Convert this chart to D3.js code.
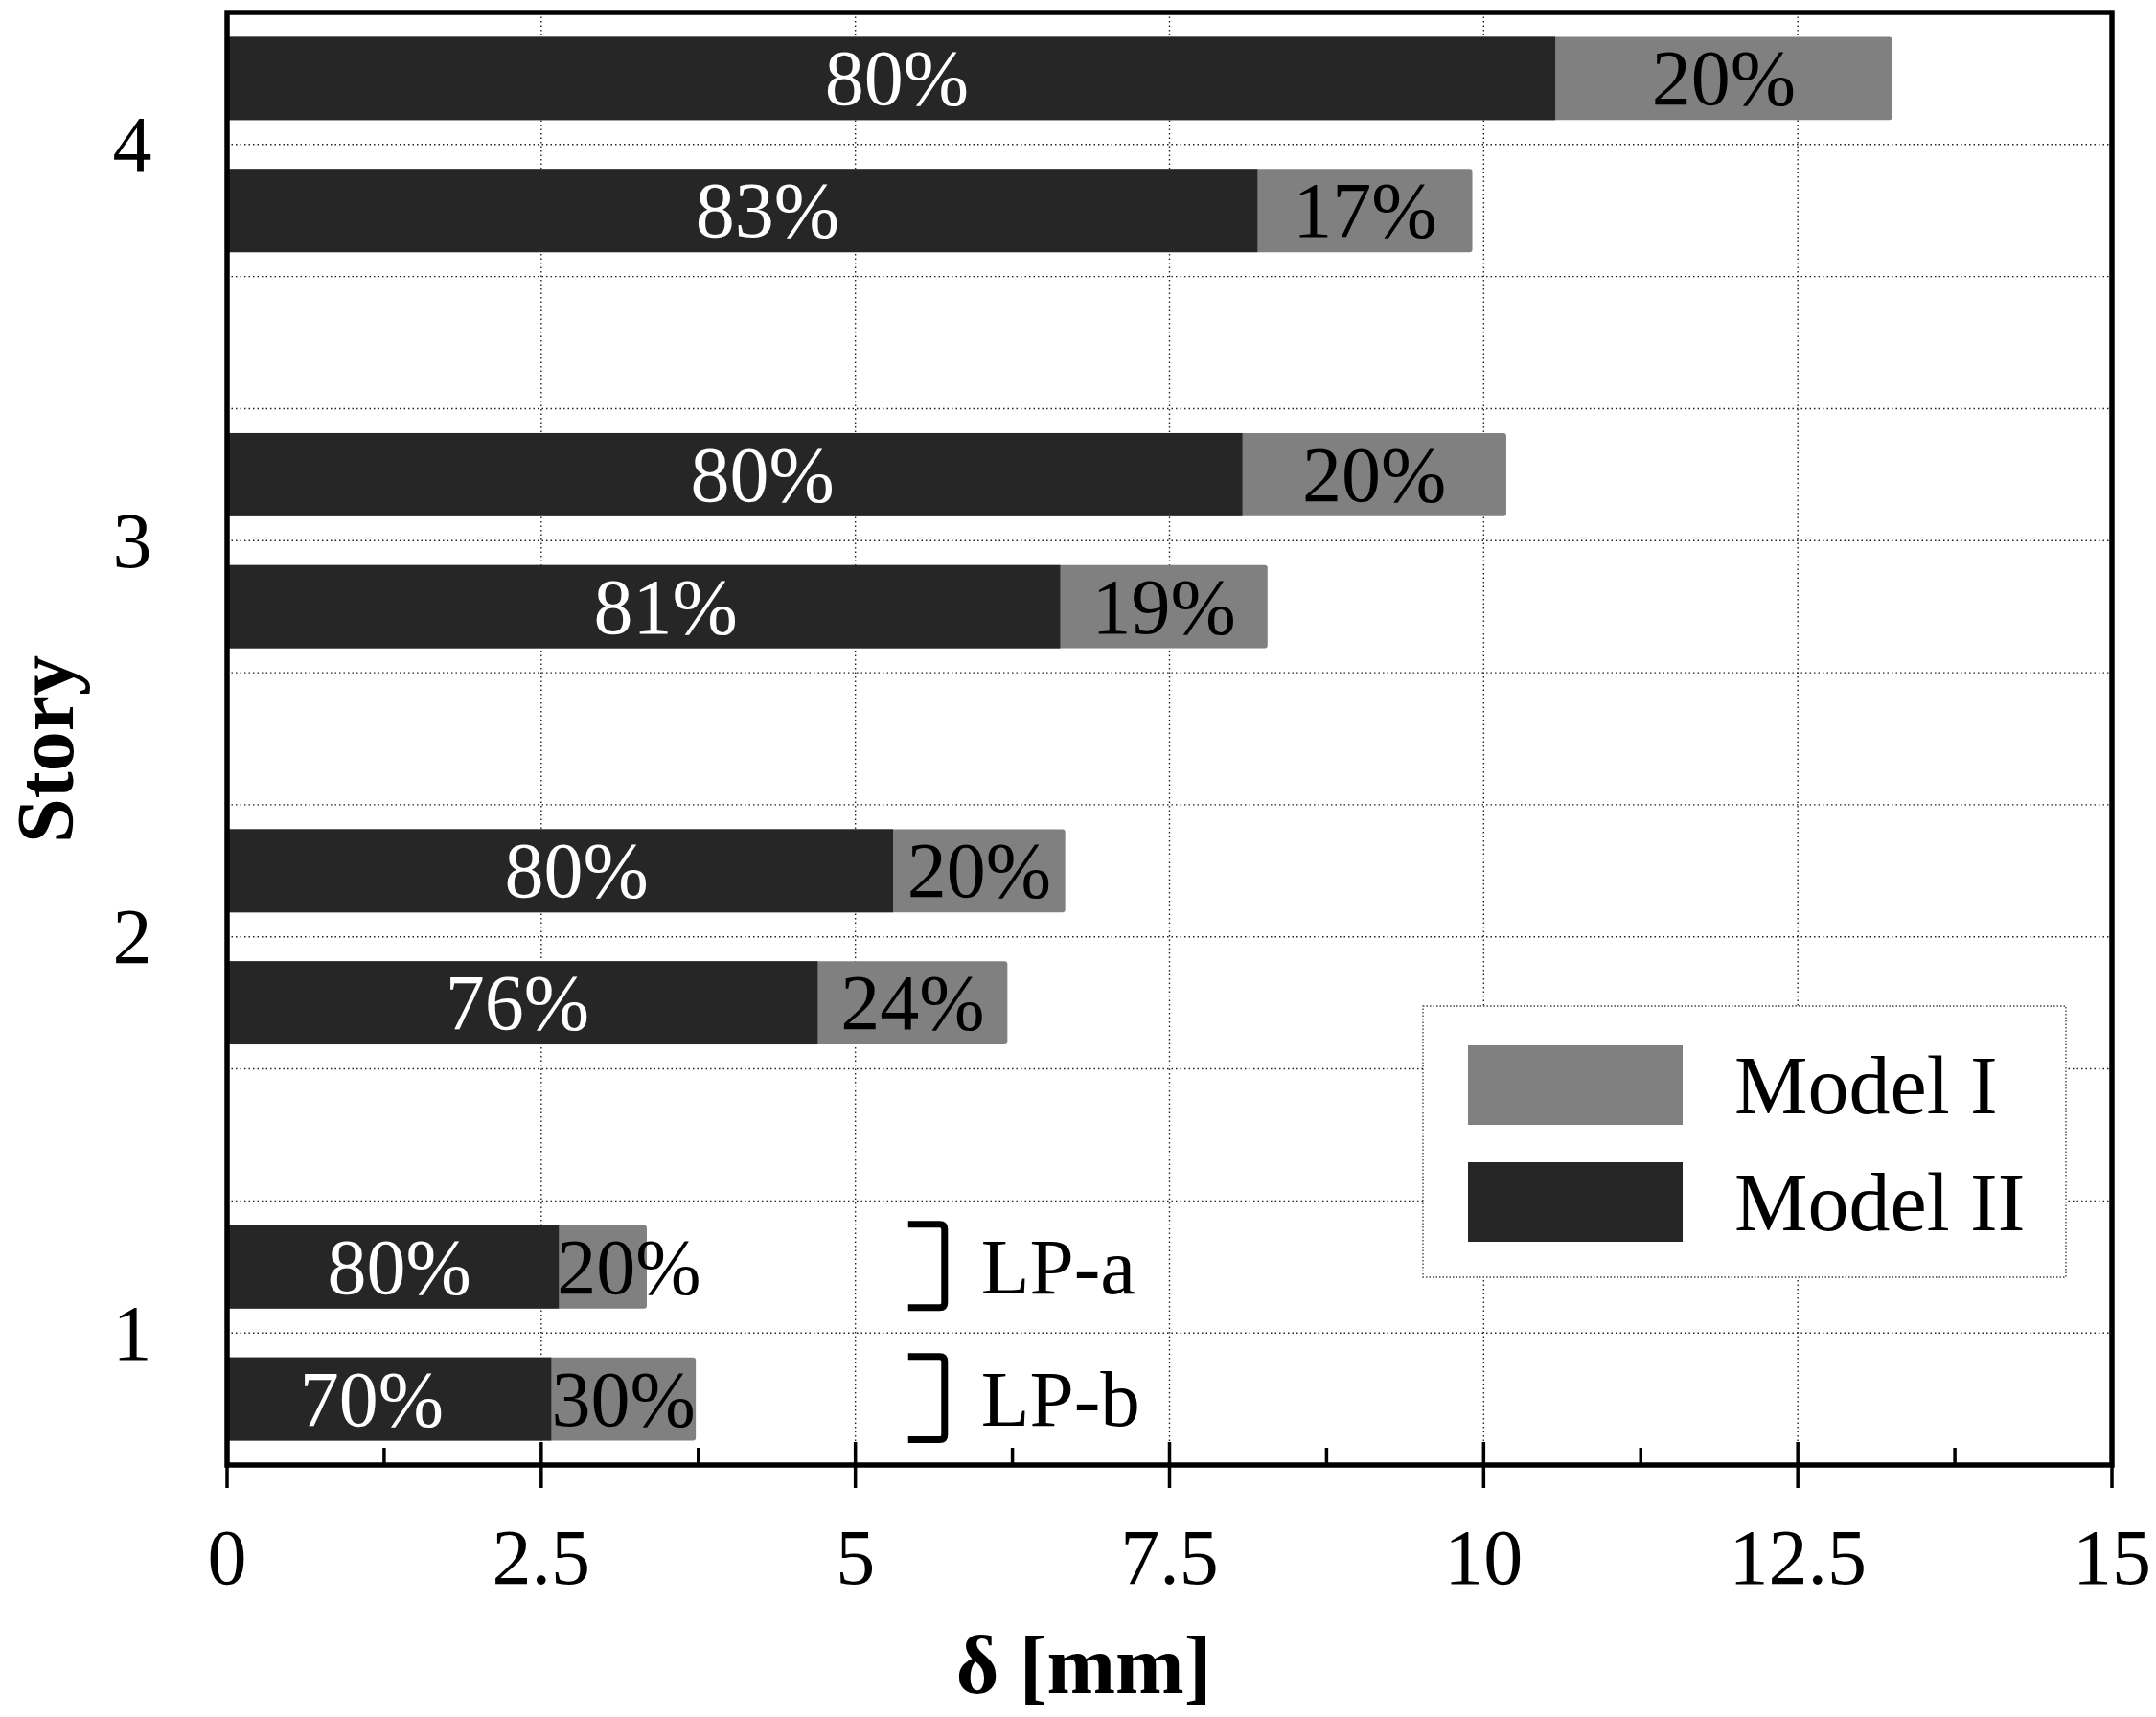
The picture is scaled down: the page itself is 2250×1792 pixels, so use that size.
<!DOCTYPE html>
<html>
<head>
<meta charset="utf-8">
<script src="https://cdn.jsdelivr.net/npm/d3@7"></script>
<style>
  html, body { margin: 0; padding: 0; background: #fff; }
  svg { display: block; }
  text { font-family: 'Liberation Serif', 'Times New Roman', serif; }
</style>
</head>
<body>
<svg id="chart" width="2250" height="1792"></svg>
<script>
// ---------- data (δ in mm) ----------
const stories = ["4", "3", "2", "1"];
const loadCases = ["LP-a", "LP-b"];
// total bar length (Model I) per story, order 4,3,2,1
const modelI_LPa = [13.25, 10.18, 6.67, 3.34];
const modelI_LPb = [9.91, 8.28, 6.21, 3.73];
// Model II portion (dark) per story
const modelII_LPa = [10.57, 8.08, 5.30, 2.64];
const modelII_LPb = [8.20, 6.63, 4.70, 2.58];
// percentage labels
const pctII_LPa = ["80%", "80%", "80%", "80%"];
const pctI_LPa  = ["20%", "20%", "20%", "20%"];
const pctII_LPb = ["83%", "81%", "76%", "70%"];
const pctI_LPb  = ["17%", "19%", "24%", "30%"];
// where the Model II % label sits along δ (mm)
const labelAtII_LPa = [5.33, 4.26, 2.78, 1.37];
const labelAtII_LPb = [4.30, 3.49, 2.31, 1.15];
const xTicks = [0, 2.5, 5, 7.5, 10, 12.5, 15];
const xTickLabels = ["0", "2.5", "5", "7.5", "10", "12.5", "15"];
const xMinorTicks = [1.25, 3.75, 6.25, 8.75, 11.25, 13.75];
const seriesNames = ["Model I", "Model II"];

// ---------- build records ----------
const bars = [];
stories.forEach((s, i) => {
  bars.push({story: s, lp: "LP-a", total: modelI_LPa[i], ii: modelII_LPa[i],
             pII: pctII_LPa[i], pI: pctI_LPa[i], lab: labelAtII_LPa[i]});
  bars.push({story: s, lp: "LP-b", total: modelI_LPb[i], ii: modelII_LPb[i],
             pII: pctII_LPb[i], pI: pctI_LPb[i], lab: labelAtII_LPb[i]});
});
const rows = stories.flatMap(s => [s + "|LP-a", s + "|LP-b", s + "|gap"]).slice(0, -1);

// ---------- layout ----------
const L = 237, R = 2204, T = 13, B = 1529;
const cDark = "#262626", cGray = "#808080";

const svg = d3.select("#chart");
const x = d3.scaleLinear().domain([0, 15]).range([L, R]);
const y = d3.scaleBand().domain(rows).range([T, B]).padding(0);
const bw = y.bandwidth();
const barH = bw * 0.63;
const barY = d => y(d.story + "|" + d.lp) + (bw - barH) / 2;

// ---------- grid ----------
const grid = svg.append("g").attr("stroke", "#222").attr("stroke-width", 1.4)
  .attr("stroke-dasharray", "1.5,3");
grid.selectAll("line.h").data(rows.slice(1)).join("line")
  .attr("x1", L).attr("x2", R)
  .attr("y1", d => y(d)).attr("y2", d => y(d));
grid.selectAll("line.v").data(xTicks.slice(1, -1)).join("line")
  .attr("x1", d => x(d)).attr("x2", d => x(d))
  .attr("y1", T).attr("y2", B);

// ---------- bars ----------
const gb = svg.append("g");
gb.selectAll("rect.tot").data(bars).join("rect")
  .attr("x", x(0)).attr("y", barY)
  .attr("width", d => x(d.total) - x(0)).attr("height", barH)
  .attr("rx", 3).attr("fill", cGray);
gb.selectAll("rect.ii").data(bars).join("rect")
  .attr("x", x(0)).attr("y", barY)
  .attr("width", d => x(d.ii) - x(0)).attr("height", barH)
  .attr("fill", cDark);

// labels
gb.selectAll("text.ii").data(bars).join("text")
  .attr("x", d => x(d.lab)).attr("y", d => barY(d) + barH / 2)
  .attr("text-anchor", "middle").attr("dominant-baseline", "central")
  .attr("font-size", 82).attr("fill", "#fff").text(d => d.pII);
gb.selectAll("text.i").data(bars).join("text")
  .attr("y", d => barY(d) + barH / 2)
  .attr("text-anchor", "middle").attr("dominant-baseline", "central")
  .attr("font-size", 82).attr("fill", "#000").text(d => d.pI)
  .each(function(d) {
    const w = this.getComputedTextLength();
    const c = (x(d.ii) + x(d.total)) / 2;
    d3.select(this).attr("x", Math.max(c, x(d.ii) + w / 2 - 2));
  });

// ---------- brackets LP-a / LP-b (story 1) ----------
const lpBars = bars.filter(d => d.story === "1");
const gl = svg.append("g");
gl.selectAll("path").data(lpBars).join("path")
  .attr("d", d => {
    const t = barY(d) - 1, b = barY(d) + barH - 1;
    const x0 = x(5.42), x1 = x(5.71), r = 5;
    return `M${x0},${t} L${x1 - r},${t} Q${x1},${t} ${x1},${t + r} L${x1},${b - r} Q${x1},${b} ${x1 - r},${b} L${x0},${b}`;
  })
  .attr("fill", "none").attr("stroke", "#000").attr("stroke-width", 7);
gl.selectAll("text").data(lpBars).join("text")
  .attr("x", x(6.0)).attr("y", d => barY(d) + barH / 2)
  .attr("dominant-baseline", "central").attr("font-size", 83)
  .text(d => d.lp);

// ---------- frame & axis ----------
svg.append("rect").attr("x", L).attr("y", T).attr("width", R - L).attr("height", B - T)
  .attr("fill", "none").attr("stroke", "#000").attr("stroke-width", 5.5);

const ga = svg.append("g");
ga.selectAll("line.maj").data(xTicks).join("line")
  .attr("x1", d => x(d)).attr("x2", d => x(d))
  .attr("y1", B - 24).attr("y2", B + 24)
  .attr("stroke", "#000").attr("stroke-width", 3.5);
ga.selectAll("line.min").data(xMinorTicks).join("line")
  .attr("x1", d => x(d)).attr("x2", d => x(d))
  .attr("y1", B - 18).attr("y2", B)
  .attr("stroke", "#000").attr("stroke-width", 3.5);
ga.selectAll("text").data(xTicks).join("text")
  .attr("x", d => x(d)).attr("y", 1653)
  .attr("text-anchor", "middle").attr("font-size", 82)
  .text((d, i) => xTickLabels[i]);

// y labels
svg.append("g").selectAll("text").data(stories).join("text")
  .attr("x", 138).attr("y", d => y(d + "|LP-b"))
  .attr("text-anchor", "middle").attr("dominant-baseline", "central")
  .attr("font-size", 82).text(d => d);

// axis titles
svg.append("text").attr("x", 1131).attr("y", 1767)
  .attr("text-anchor", "middle").attr("font-size", 86).attr("font-weight", "bold")
  .text("δ [mm]");
svg.append("text").attr("transform", "translate(76,782) rotate(-90)")
  .attr("text-anchor", "middle").attr("font-size", 84).attr("font-weight", "bold")
  .text("Story");

// ---------- legend ----------
const lg = svg.append("g");
lg.append("rect").attr("x", 1485).attr("y", 1050).attr("width", 671).attr("height", 283)
  .attr("fill", "#fff").attr("stroke", "#444").attr("stroke-width", 1.4)
  .attr("stroke-dasharray", "1.5,2");
const legItems = [{name: seriesNames[0], color: cGray}, {name: seriesNames[1], color: cDark}];
const li = lg.selectAll("g.item").data(legItems).join("g")
  .attr("transform", (d, i) => `translate(1532,${1091 + i * 122})`);
li.append("rect").attr("width", 224).attr("height", 83).attr("fill", d => d.color);
li.append("text").attr("x", 278).attr("y", 42).attr("dominant-baseline", "central")
  .attr("font-size", 86).text(d => d.name);
</script>
</body>
</html>
